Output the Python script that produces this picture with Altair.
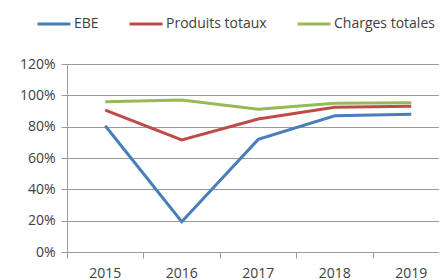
import altair as alt
import pandas as pd

years = ["2015", "2016", "2017", "2018", "2019"]
series_names = ["EBE", "Produits totaux", "Charges totales"]
ebe = [0.806, 0.193, 0.719, 0.870, 0.879]
produits = [0.906, 0.715, 0.849, 0.924, 0.930]
charges = [0.959, 0.970, 0.911, 0.949, 0.953]
colors = ["#4A7EBB", "#BE4B48", "#98B954"]
y_ticks = [0, 0.2, 0.4, 0.6, 0.8, 1.0, 1.2]

rows = []
for name, vals in zip(series_names, [ebe, produits, charges]):
    for yr, v in zip(years, vals):
        rows.append({"Année": yr, "Série": name, "Valeur": v})
df = pd.DataFrame(rows)

FONT = "Open Sans"
BAND = 76.5

chart = alt.Chart(df).mark_line(strokeWidth=3).encode(
    x=alt.X("Année:O", bandPosition=0.5,
            scale=alt.Scale(type="band", domain=years, paddingInner=0, paddingOuter=0,
                            range=[0, 5 * BAND]),
            axis=alt.Axis(title=None, bandPosition=0, labelAngle=0,
                          grid=False, domain=True, domainColor="#9a9a9a", tickColor="#9a9a9a",
                          tickSize=6, labelPadding=8, labelFont=FONT, labelFontSize=14,
                          labelColor="#404040")),
    y=alt.Y("Valeur:Q", scale=alt.Scale(domain=[0, 1.2], nice=False),
            axis=alt.Axis(title=None, values=y_ticks, format=".0%", grid=True,
                          gridColor="#9a9a9a", domainColor="#9a9a9a", tickColor="#9a9a9a",
                          tickSize=6, labelPadding=6, labelFont=FONT, labelFontSize=14,
                          labelColor="#404040")),
    color=alt.Color("Série:N", scale=alt.Scale(domain=series_names, range=colors),
                    legend=alt.Legend(title=None, orient="none", legendX=-31, legendY=-58,
                                      direction="horizontal", symbolType="stroke",
                                      symbolSize=1089, symbolStrokeWidth=3,
                                      labelFont=FONT, labelFontSize=14, labelColor="#404040",
                                      labelOffset=2, columnPadding=24)),
    order=alt.Order("Année:O"),
).properties(
    width=372, height=188,
    autosize=alt.AutoSizeParams(type="none"),
    padding={"left": 59, "top": 56, "right": 0, "bottom": 28},
).configure_view(stroke=None).configure(background="white")

chart.save("out.html", embed_options={"renderer": "svg", "actions": False})
